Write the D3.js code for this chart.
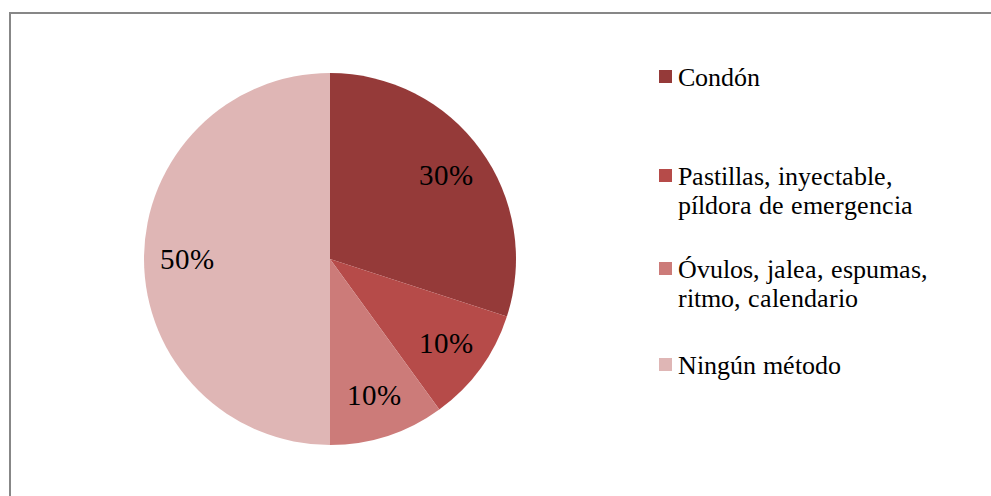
<!DOCTYPE html>
<html>
<head>
<meta charset="utf-8">
<script src="https://cdn.jsdelivr.net/npm/d3@7"></script>
<style>
  @font-face { font-family: "ChartSerif"; src: local("Liberation Serif"), local("LiberationSerif"), local("Liberation Serif Regular"), local("Times New Roman"), local("Tinos"); }
  body { margin: 0; }
  #chart text { font-family: "ChartSerif", "Liberation Serif", "Times New Roman", Tinos, serif; }
</style>
</head>
<body>
<svg id="chart" width="991" height="496" style="font-family: 'Liberation Serif', 'Times New Roman', serif"></svg>
<script>
// Métodos anticonceptivos usados (porcentaje)
const categories = [
  ["Condón"],
  ["Pastillas, inyectable,", "píldora de emergencia"],
  ["Óvulos, jalea, espumas,", "ritmo, calendario"],
  ["Ningún método"]
];
const values = [30, 10, 10, 50];
const colors = ["#953a39", "#b64b49", "#cc7b79", "#dfb6b5"];

const svg = d3.select("#chart");

// chart frame
svg.append("rect")
  .attr("x", 10).attr("y", 13)
  .attr("width", 1000).attr("height", 600)
  .attr("fill", "#fff")
  .attr("stroke", "#878787")
  .attr("stroke-width", 2);

const cx = 330, cy = 259, R = 186;
const data = values.map((v, i) => ({ label: categories[i], value: v, color: colors[i] }));

const pie = d3.pie().sort(null).value(d => d.value);
const arcs = pie(data);
const arc = d3.arc().innerRadius(0).outerRadius(R);
const labelArc = d3.arc().innerRadius(R * 0.77).outerRadius(R * 0.77);

const g = svg.append("g").attr("transform", `translate(${cx},${cy})`);

g.selectAll("path.slice")
  .data(arcs)
  .join("path")
  .attr("class", "slice")
  .attr("d", arc)
  .attr("fill", d => d.data.color);

// percentage labels inside the slices
g.selectAll("text.pct")
  .data(arcs)
  .join("text")
  .attr("class", "pct")
  .attr("x", d => labelArc.centroid(d)[0])
  .attr("y", d => labelArc.centroid(d)[1] + 10)
  .attr("text-anchor", "middle")
  .attr("font-size", 29)
  .text(d => d.data.value + "%");

// legend
const legendX = 659;
const firstBaselines = [86, 185, 278, 374];
const lineGap = 29;
data.forEach((d, i) => {
  const base = firstBaselines[i];
  svg.append("rect")
    .attr("x", legendX).attr("y", base - 16)
    .attr("width", 13).attr("height", 13)
    .attr("fill", d.color);
  d.label.forEach((line, j) => {
    svg.append("text")
      .attr("x", legendX + 19)
      .attr("y", base + j * lineGap)
      .attr("font-size", 26)
      .text(line);
  });
});
</script>
</body>
</html>
